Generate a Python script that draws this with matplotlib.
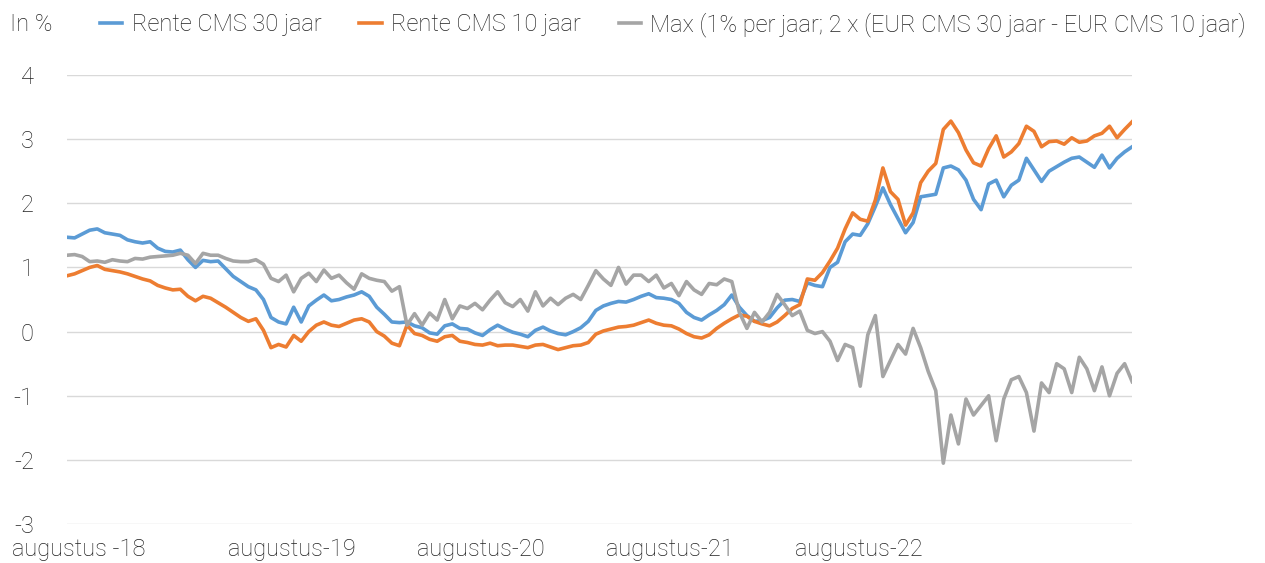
import numpy as np
import matplotlib
matplotlib.use('Agg')
import matplotlib.pyplot as plt

# tijdas: om de twee weken (decimaal jaar), mei 2018 - jan 2024
jaar = np.round(2018.40 + 0.04 * np.arange(142), 2)

cms30 = [1.47, 1.46, 1.52, 1.58, 1.60, 1.54, 1.52, 1.50, 1.43, 1.40,
         1.38, 1.40, 1.30, 1.25, 1.24, 1.27, 1.12, 1.00, 1.11, 1.09,
         1.10, 0.98, 0.86, 0.78, 0.70, 0.65, 0.50, 0.22, 0.15, 0.12,
         0.38, 0.15, 0.40, 0.49, 0.57, 0.48, 0.50, 0.54, 0.57, 0.62,
         0.55, 0.38, 0.27, 0.15, 0.14, 0.15, 0.09, 0.06, -0.02, -0.04,
         0.09, 0.12, 0.05, 0.04, -0.02, -0.06, 0.03, 0.10, 0.04, -0.01,
         -0.04, -0.08, 0.02, 0.07, 0.01, -0.03, -0.05, 0.00, 0.06, 0.16,
         0.33, 0.40, 0.44, 0.47, 0.46, 0.50, 0.55, 0.59, 0.53, 0.52,
         0.50, 0.44, 0.30, 0.22, 0.18, 0.26, 0.33, 0.42, 0.57, 0.38,
         0.25, 0.16, 0.17, 0.22, 0.37, 0.49, 0.50, 0.47, 0.76, 0.72,
         0.70, 1.00, 1.08, 1.40, 1.52, 1.50, 1.68, 1.95, 2.24, 1.98,
         1.76, 1.54, 1.70, 2.10, 2.12, 2.14, 2.55, 2.58, 2.52, 2.36,
         2.06, 1.90, 2.30, 2.36, 2.10, 2.28, 2.36, 2.70, 2.52, 2.34,
         2.50, 2.57, 2.64, 2.70, 2.72, 2.64, 2.56, 2.75, 2.55, 2.70,
         2.80, 2.88]

cms10 = [0.87, 0.90, 0.95, 1.00, 1.03, 0.97, 0.95, 0.93, 0.90, 0.86,
         0.82, 0.79, 0.72, 0.68, 0.65, 0.66, 0.55, 0.48, 0.55, 0.52,
         0.45, 0.38, 0.30, 0.22, 0.16, 0.20, 0.02, -0.25, -0.20, -0.24,
         -0.06, -0.15, 0.00, 0.10, 0.15, 0.10, 0.08, 0.13, 0.18, 0.20,
         0.15, 0.00, -0.07, -0.18, -0.22, 0.10, -0.03, -0.06, -0.12, -0.15,
         -0.08, -0.06, -0.15, -0.17, -0.20, -0.21, -0.18, -0.22, -0.21, -0.21,
         -0.23, -0.25, -0.21, -0.20, -0.24, -0.28, -0.25, -0.22, -0.21, -0.17,
         -0.04, 0.01, 0.04, 0.07, 0.08, 0.10, 0.14, 0.18, 0.13, 0.10,
         0.09, 0.04, -0.03, -0.08, -0.10, -0.05, 0.05, 0.13, 0.20, 0.26,
         0.24, 0.16, 0.12, 0.09, 0.15, 0.25, 0.36, 0.42, 0.82, 0.80,
         0.92, 1.10, 1.30, 1.60, 1.85, 1.75, 1.72, 2.05, 2.55, 2.18,
         2.06, 1.66, 1.85, 2.32, 2.50, 2.62, 3.15, 3.28, 3.10, 2.83,
         2.63, 2.58, 2.85, 3.05, 2.72, 2.80, 2.93, 3.20, 3.12, 2.88,
         2.96, 2.97, 2.92, 3.02, 2.95, 2.97, 3.05, 3.09, 3.20, 3.02,
         3.15, 3.27]

max_spread = [1.19, 1.20, 1.17, 1.09, 1.10, 1.08, 1.12, 1.10, 1.09, 1.14,
              1.13, 1.16, 1.17, 1.18, 1.19, 1.22, 1.19, 1.06, 1.22, 1.19,
              1.19, 1.14, 1.10, 1.09, 1.09, 1.12, 1.05, 0.83, 0.78, 0.88,
              0.62, 0.83, 0.91, 0.78, 0.96, 0.83, 0.88, 0.76, 0.66, 0.90,
              0.83, 0.80, 0.78, 0.63, 0.70, 0.10, 0.28, 0.10, 0.29, 0.18,
              0.50, 0.20, 0.40, 0.36, 0.44, 0.34, 0.49, 0.62, 0.45, 0.39,
              0.50, 0.32, 0.62, 0.40, 0.52, 0.42, 0.52, 0.58, 0.50, 0.72,
              0.95, 0.82, 0.72, 1.00, 0.74, 0.88, 0.88, 0.78, 0.88, 0.68,
              0.75, 0.56, 0.78, 0.65, 0.58, 0.75, 0.73, 0.82, 0.78, 0.30,
              0.05, 0.30, 0.15, 0.30, 0.58, 0.42, 0.25, 0.32, 0.02, -0.03,
              0.00, -0.15, -0.45, -0.20, -0.25, -0.85, -0.05, 0.25, -0.70, -0.45,
              -0.20, -0.35, 0.05, -0.25, -0.62, -0.92, -2.05, -1.30, -1.75, -1.05,
              -1.30, -1.15, -1.00, -1.70, -1.05, -0.75, -0.70, -0.95, -1.55, -0.80,
              -0.95, -0.50, -0.58, -0.95, -0.40, -0.58, -0.92, -0.55, -1.00, -0.65,
              -0.50, -0.78]

tick_pos = [2018.46, 2019.59, 2020.59, 2021.59, 2022.59]
tick_labels = ['augustus -18', 'augustus-19', 'augustus-20', 'augustus-21', 'augustus-22']

plt.rcParams['font.family'] = ['Roboto', 'DejaVu Sans']
plt.rcParams['axes.unicode_minus'] = False  # gewoon streepje als minteken

fs = 17
fig = plt.figure(figsize=(12.65, 5.63), dpi=100)
ax = fig.add_axes([0.053, 0.069, 0.842, 0.798])

ax.plot(jaar, cms30, color='#5b9bd5', lw=2.6, label='Rente CMS 30 jaar')
ax.plot(jaar, cms10, color='#ed7d31', lw=2.6, label='Rente CMS 10 jaar')
ax.plot(jaar, max_spread, color='#a5a5a5', lw=2.6,
        label='Max (1% per jaar; 2 x (EUR CMS 30 jaar - EUR CMS 10 jaar)')

ax.set_xlim(2018.40, 2024.04)
ax.set_ylim(-3, 4)
ax.set_yticks(range(-3, 5))
ax.yaxis.grid(True, color='#d9d9d9', lw=1)
ax.set_axisbelow(True)
for s in ax.spines.values():
    s.set_visible(False)
ax.set_xticks(tick_pos)
ax.set_xticklabels(tick_labels)
ax.tick_params(axis='both', length=0, labelsize=fs, colors='#222222')
ax.tick_params(axis='y', pad=24)
ax.tick_params(axis='x', pad=10)
for lab in ax.get_xticklabels() + ax.get_yticklabels():
    lab.set_fontweight('light')

fig.text(0.008, 0.957, 'In %', fontsize=fs, fontweight='light',
         color='#222222', va='center', ha='left')

leg = fig.legend(loc='center left', bbox_to_anchor=(0.079, 0.957), ncol=3,
                 frameon=False, fontsize=fs, handlelength=0.95, handletextpad=0.4,
                 columnspacing=1.6, borderpad=0, borderaxespad=0)
for t in leg.get_texts():
    t.set_fontweight('light')
    t.set_color('#222222')

fig.savefig('out.png', dpi=100)
